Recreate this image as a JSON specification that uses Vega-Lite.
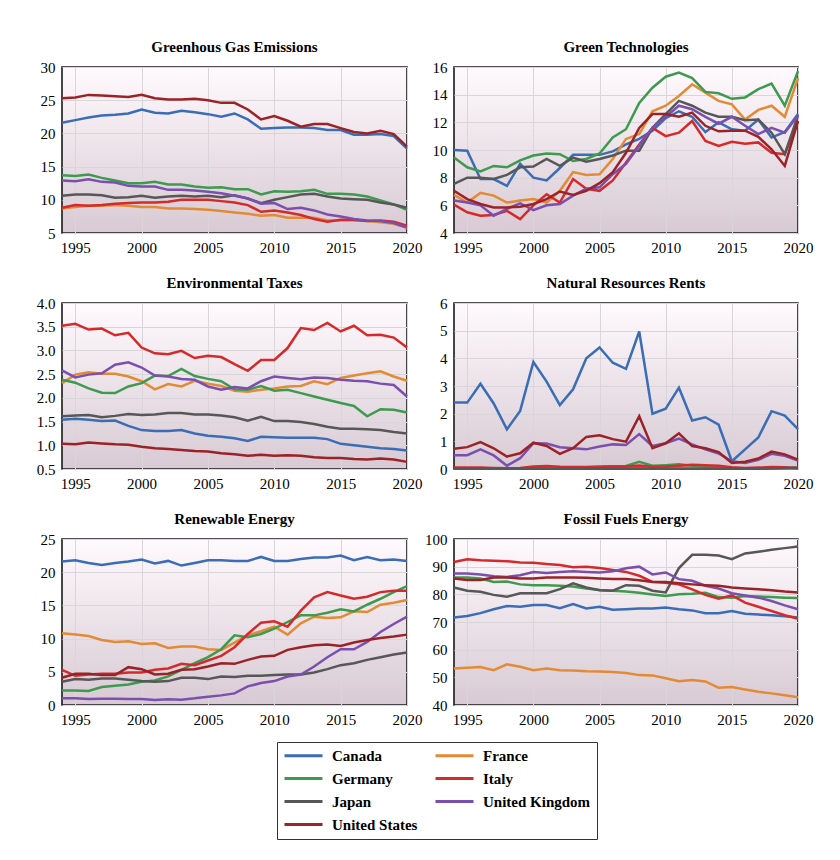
{
"$schema":"https://vega.github.io/schema/vega-lite/v6.json",
"padding":{"left":35,"top":39,"right":5,"bottom":5},
"background":"white",
"datasets":{
"ghg":[
{"year":1994,"Canada":21.6,"France":8.7,"Germany":13.7,"Italy":8.8,"Japan":10.6,"United Kingdom":12.9,"United States":25.3},
{"year":1995,"Canada":22.0,"France":8.9,"Germany":13.6,"Italy":9.2,"Japan":10.8,"United Kingdom":12.8,"United States":25.4},
{"year":1996,"Canada":22.4,"France":9.1,"Germany":13.8,"Italy":9.1,"Japan":10.8,"United Kingdom":13.1,"United States":25.8},
{"year":1997,"Canada":22.7,"France":9.1,"Germany":13.3,"Italy":9.2,"Japan":10.7,"United Kingdom":12.7,"United States":25.7},
{"year":1998,"Canada":22.8,"France":9.2,"Germany":12.9,"Italy":9.4,"Japan":10.3,"United Kingdom":12.6,"United States":25.6},
{"year":1999,"Canada":23.0,"France":9.1,"Germany":12.5,"Italy":9.5,"Japan":10.4,"United Kingdom":12.1,"United States":25.5},
{"year":2000,"Canada":23.6,"France":8.9,"Germany":12.5,"Italy":9.6,"Japan":10.6,"United Kingdom":12.0,"United States":25.8},
{"year":2001,"Canada":23.1,"France":8.9,"Germany":12.7,"Italy":9.6,"Japan":10.3,"United Kingdom":12.0,"United States":25.3},
{"year":2002,"Canada":23.0,"France":8.7,"Germany":12.3,"Italy":9.7,"Japan":10.5,"United Kingdom":11.5,"United States":25.1},
{"year":2003,"Canada":23.4,"France":8.7,"Germany":12.3,"Italy":10.0,"Japan":10.6,"United Kingdom":11.5,"United States":25.1},
{"year":2004,"Canada":23.2,"France":8.6,"Germany":12.0,"Italy":10.0,"Japan":10.5,"United Kingdom":11.4,"United States":25.2},
{"year":2005,"Canada":22.9,"France":8.5,"Germany":11.8,"Italy":10.0,"Japan":10.6,"United Kingdom":11.2,"United States":25.0},
{"year":2006,"Canada":22.5,"France":8.3,"Germany":11.9,"Italy":9.8,"Japan":10.4,"United Kingdom":11.0,"United States":24.6},
{"year":2007,"Canada":23.0,"France":8.1,"Germany":11.6,"Italy":9.6,"Japan":10.7,"United Kingdom":10.6,"United States":24.6},
{"year":2008,"Canada":22.1,"France":7.9,"Germany":11.6,"Italy":9.2,"Japan":10.2,"United Kingdom":10.2,"United States":23.6},
{"year":2009,"Canada":20.7,"France":7.6,"Germany":10.8,"Italy":8.2,"Japan":9.5,"United Kingdom":9.4,"United States":22.1},
{"year":2010,"Canada":20.8,"France":7.7,"Germany":11.3,"Italy":8.4,"Japan":10.0,"United Kingdom":9.5,"United States":22.6},
{"year":2011,"Canada":20.9,"France":7.3,"Germany":11.2,"Italy":8.1,"Japan":10.4,"United Kingdom":8.6,"United States":21.9},
{"year":2012,"Canada":20.9,"France":7.3,"Germany":11.3,"Italy":7.7,"Japan":10.8,"United Kingdom":8.8,"United States":21.0},
{"year":2013,"Canada":20.8,"France":7.3,"Germany":11.5,"Italy":7.1,"Japan":10.9,"United Kingdom":8.4,"United States":21.4},
{"year":2014,"Canada":20.5,"France":6.9,"Germany":10.9,"Italy":6.7,"Japan":10.5,"United Kingdom":7.8,"United States":21.4},
{"year":2015,"Canada":20.5,"France":6.9,"Germany":10.9,"Italy":7.0,"Japan":10.2,"United Kingdom":7.5,"United States":20.8},
{"year":2016,"Canada":19.8,"France":6.9,"Germany":10.8,"Italy":7.0,"Japan":10.1,"United Kingdom":7.1,"United States":20.2},
{"year":2017,"Canada":19.8,"France":6.8,"Germany":10.5,"Italy":6.8,"Japan":10.0,"United Kingdom":6.9,"United States":20.0},
{"year":2018,"Canada":19.9,"France":6.6,"Germany":9.9,"Italy":6.9,"Japan":9.6,"United Kingdom":6.8,"United States":20.4},
{"year":2019,"Canada":19.6,"France":6.4,"Germany":9.3,"Italy":6.7,"Japan":9.3,"United Kingdom":6.5,"United States":19.9},
{"year":2020,"Canada":17.7,"France":5.8,"Germany":8.5,"Italy":6.1,"Japan":8.8,"United Kingdom":5.8,"United States":18.0}
],
"tech":[
{"year":1994,"Canada":10.0,"France":6.75,"Germany":9.45,"Italy":6.05,"Japan":7.55,"United Kingdom":6.35,"United States":7.05},
{"year":1995,"Canada":9.95,"France":6.2,"Germany":8.75,"Italy":5.5,"Japan":8.0,"United Kingdom":6.2,"United States":6.45},
{"year":1996,"Canada":7.9,"France":6.9,"Germany":8.45,"Italy":5.25,"Japan":8.0,"United Kingdom":6.0,"United States":6.1},
{"year":1997,"Canada":7.9,"France":6.7,"Germany":8.85,"Italy":5.3,"Japan":7.9,"United Kingdom":5.25,"United States":5.85},
{"year":1998,"Canada":7.4,"France":6.2,"Germany":8.75,"Italy":5.6,"Japan":8.2,"United Kingdom":5.75,"United States":5.85},
{"year":1999,"Canada":9.0,"France":6.35,"Germany":9.25,"Italy":5.0,"Japan":8.75,"United Kingdom":6.15,"United States":5.9},
{"year":2000,"Canada":8.0,"France":6.45,"Germany":9.6,"Italy":6.0,"Japan":8.8,"United Kingdom":5.65,"United States":6.1},
{"year":2001,"Canada":7.8,"France":6.2,"Germany":9.75,"Italy":6.8,"Japan":9.35,"United Kingdom":6.0,"United States":6.45},
{"year":2002,"Canada":8.7,"France":7.05,"Germany":9.7,"Italy":6.2,"Japan":8.85,"United Kingdom":6.1,"United States":7.0},
{"year":2003,"Canada":9.65,"France":8.4,"Germany":9.2,"Italy":7.9,"Japan":9.45,"United Kingdom":6.7,"United States":6.75},
{"year":2004,"Canada":9.65,"France":8.2,"Germany":9.35,"Italy":7.2,"Japan":9.15,"United Kingdom":7.2,"United States":7.05},
{"year":2005,"Canada":9.65,"France":8.25,"Germany":9.75,"Italy":7.05,"Japan":9.35,"United Kingdom":7.3,"United States":7.6},
{"year":2006,"Canada":9.9,"France":9.35,"Germany":10.9,"Italy":7.8,"Japan":9.6,"United Kingdom":8.25,"United States":8.4},
{"year":2007,"Canada":10.4,"France":10.8,"Germany":11.5,"Italy":9.1,"Japan":9.95,"United Kingdom":9.0,"United States":9.8},
{"year":2008,"Canada":10.8,"France":11.15,"Germany":13.4,"Italy":10.4,"Japan":9.95,"United Kingdom":10.3,"United States":11.6},
{"year":2009,"Canada":11.4,"France":12.8,"Germany":14.5,"Italy":11.6,"Japan":11.6,"United Kingdom":11.6,"United States":12.6},
{"year":2010,"Canada":12.3,"France":13.2,"Germany":15.3,"Italy":11.0,"Japan":12.6,"United Kingdom":12.4,"United States":12.6},
{"year":2011,"Canada":12.8,"France":13.9,"Germany":15.6,"Italy":11.25,"Japan":13.55,"United Kingdom":13.2,"United States":12.4},
{"year":2012,"Canada":12.4,"France":14.75,"Germany":15.2,"Italy":12.1,"Japan":13.2,"United Kingdom":12.95,"United States":12.7},
{"year":2013,"Canada":11.3,"France":14.15,"Germany":14.2,"Italy":10.65,"Japan":12.7,"United Kingdom":12.4,"United States":11.75},
{"year":2014,"Canada":12.0,"France":13.55,"Germany":14.1,"Italy":10.3,"Japan":12.4,"United Kingdom":11.9,"United States":11.35},
{"year":2015,"Canada":11.5,"France":13.3,"Germany":13.7,"Italy":10.6,"Japan":12.4,"United Kingdom":12.4,"United States":11.4},
{"year":2016,"Canada":11.4,"France":12.2,"Germany":13.8,"Italy":10.45,"Japan":12.15,"United Kingdom":11.75,"United States":11.4},
{"year":2017,"Canada":12.2,"France":12.9,"Germany":14.4,"Italy":10.55,"Japan":12.2,"United Kingdom":11.15,"United States":10.95},
{"year":2018,"Canada":10.9,"France":13.2,"Germany":14.8,"Italy":9.8,"Japan":11.25,"United Kingdom":11.6,"United States":10.05},
{"year":2019,"Canada":11.3,"France":12.4,"Germany":13.2,"Italy":9.7,"Japan":9.7,"United Kingdom":11.25,"United States":8.85},
{"year":2020,"Canada":12.6,"France":15.2,"Germany":15.7,"Italy":12.1,"Japan":12.5,"United Kingdom":12.5,"United States":12.1}
],
"tax":[
{"year":1994,"Canada":1.54,"France":2.31,"Germany":2.38,"Italy":3.52,"Japan":1.61,"United Kingdom":2.58,"United States":1.03},
{"year":1995,"Canada":1.56,"France":2.49,"Germany":2.32,"Italy":3.56,"Japan":1.63,"United Kingdom":2.43,"United States":1.02},
{"year":1996,"Canada":1.54,"France":2.54,"Germany":2.20,"Italy":3.44,"Japan":1.64,"United Kingdom":2.49,"United States":1.06},
{"year":1997,"Canada":1.51,"France":2.51,"Germany":2.11,"Italy":3.46,"Japan":1.59,"United Kingdom":2.52,"United States":1.04},
{"year":1998,"Canada":1.52,"France":2.51,"Germany":2.10,"Italy":3.32,"Japan":1.62,"United Kingdom":2.70,"United States":1.02},
{"year":1999,"Canada":1.41,"France":2.45,"Germany":2.24,"Italy":3.37,"Japan":1.66,"United Kingdom":2.75,"United States":1.01},
{"year":2000,"Canada":1.32,"France":2.35,"Germany":2.31,"Italy":3.06,"Japan":1.64,"United Kingdom":2.64,"United States":0.97},
{"year":2001,"Canada":1.30,"France":2.18,"Germany":2.47,"Italy":2.94,"Japan":1.65,"United Kingdom":2.47,"United States":0.94},
{"year":2002,"Canada":1.30,"France":2.29,"Germany":2.46,"Italy":2.92,"Japan":1.68,"United Kingdom":2.45,"United States":0.92},
{"year":2003,"Canada":1.32,"France":2.24,"Germany":2.61,"Italy":2.99,"Japan":1.68,"United Kingdom":2.40,"United States":0.90},
{"year":2004,"Canada":1.25,"France":2.36,"Germany":2.46,"Italy":2.84,"Japan":1.65,"United Kingdom":2.38,"United States":0.88},
{"year":2005,"Canada":1.20,"France":2.30,"Germany":2.40,"Italy":2.89,"Japan":1.65,"United Kingdom":2.24,"United States":0.87},
{"year":2006,"Canada":1.18,"France":2.25,"Germany":2.35,"Italy":2.86,"Japan":1.63,"United Kingdom":2.17,"United States":0.83},
{"year":2007,"Canada":1.15,"France":2.15,"Germany":2.18,"Italy":2.71,"Japan":1.59,"United Kingdom":2.23,"United States":0.81},
{"year":2008,"Canada":1.09,"France":2.13,"Germany":2.17,"Italy":2.57,"Japan":1.52,"United Kingdom":2.20,"United States":0.78},
{"year":2009,"Canada":1.18,"France":2.17,"Germany":2.25,"Italy":2.80,"Japan":1.60,"United Kingdom":2.35,"United States":0.80},
{"year":2010,"Canada":1.17,"France":2.20,"Germany":2.15,"Italy":2.80,"Japan":1.51,"United Kingdom":2.45,"United States":0.78},
{"year":2011,"Canada":1.16,"France":2.24,"Germany":2.17,"Italy":3.05,"Japan":1.51,"United Kingdom":2.42,"United States":0.79},
{"year":2012,"Canada":1.16,"France":2.25,"Germany":2.10,"Italy":3.47,"Japan":1.49,"United Kingdom":2.39,"United States":0.78},
{"year":2013,"Canada":1.16,"France":2.35,"Germany":2.03,"Italy":3.43,"Japan":1.45,"United Kingdom":2.43,"United States":0.75},
{"year":2014,"Canada":1.13,"France":2.29,"Germany":1.96,"Italy":3.58,"Japan":1.39,"United Kingdom":2.42,"United States":0.73},
{"year":2015,"Canada":1.03,"France":2.42,"Germany":1.89,"Italy":3.40,"Japan":1.35,"United Kingdom":2.38,"United States":0.73},
{"year":2016,"Canada":1.00,"France":2.47,"Germany":1.83,"Italy":3.52,"Japan":1.35,"United Kingdom":2.36,"United States":0.71},
{"year":2017,"Canada":0.97,"France":2.52,"Germany":1.61,"Italy":3.32,"Japan":1.34,"United Kingdom":2.35,"United States":0.70},
{"year":2018,"Canada":0.94,"France":2.56,"Germany":1.76,"Italy":3.33,"Japan":1.32,"United Kingdom":2.30,"United States":0.72},
{"year":2019,"Canada":0.92,"France":2.45,"Germany":1.75,"Italy":3.27,"Japan":1.28,"United Kingdom":2.27,"United States":0.70},
{"year":2020,"Canada":0.89,"France":2.36,"Germany":1.69,"Italy":3.06,"Japan":1.25,"United Kingdom":2.03,"United States":0.65}
],
"rent":[
{"year":1994,"Canada":2.4,"France":0.03,"Germany":0.03,"Italy":0.05,"Japan":0.01,"United Kingdom":0.5,"United States":0.73},
{"year":1995,"Canada":2.4,"France":0.03,"Germany":0.03,"Italy":0.05,"Japan":0.01,"United Kingdom":0.5,"United States":0.79},
{"year":1996,"Canada":3.08,"France":0.03,"Germany":0.03,"Italy":0.05,"Japan":0.01,"United Kingdom":0.71,"United States":0.97},
{"year":1997,"Canada":2.37,"France":0.03,"Germany":0.03,"Italy":0.04,"Japan":0.01,"United Kingdom":0.49,"United States":0.75},
{"year":1998,"Canada":1.43,"France":0.02,"Germany":0.02,"Italy":0.03,"Japan":0.01,"United Kingdom":0.12,"United States":0.45},
{"year":1999,"Canada":2.1,"France":0.02,"Germany":0.02,"Italy":0.04,"Japan":0.01,"United Kingdom":0.39,"United States":0.57},
{"year":2000,"Canada":3.87,"France":0.03,"Germany":0.03,"Italy":0.09,"Japan":0.01,"United Kingdom":0.93,"United States":0.95},
{"year":2001,"Canada":3.16,"France":0.03,"Germany":0.03,"Italy":0.11,"Japan":0.01,"United Kingdom":0.92,"United States":0.83},
{"year":2002,"Canada":2.31,"France":0.03,"Germany":0.03,"Italy":0.08,"Japan":0.01,"United Kingdom":0.79,"United States":0.55},
{"year":2003,"Canada":2.88,"France":0.03,"Germany":0.04,"Italy":0.07,"Japan":0.01,"United Kingdom":0.75,"United States":0.75},
{"year":2004,"Canada":4.0,"France":0.03,"Germany":0.06,"Italy":0.07,"Japan":0.01,"United Kingdom":0.71,"United States":1.16},
{"year":2005,"Canada":4.39,"France":0.03,"Germany":0.08,"Italy":0.08,"Japan":0.01,"United Kingdom":0.81,"United States":1.22},
{"year":2006,"Canada":3.84,"France":0.03,"Germany":0.1,"Italy":0.09,"Japan":0.01,"United Kingdom":0.89,"United States":1.08},
{"year":2007,"Canada":3.62,"France":0.03,"Germany":0.11,"Italy":0.09,"Japan":0.01,"United Kingdom":0.87,"United States":0.99},
{"year":2008,"Canada":4.97,"France":0.04,"Germany":0.26,"Italy":0.13,"Japan":0.02,"United Kingdom":1.26,"United States":1.91},
{"year":2009,"Canada":2.0,"France":0.03,"Germany":0.12,"Italy":0.08,"Japan":0.01,"United Kingdom":0.83,"United States":0.75},
{"year":2010,"Canada":2.18,"France":0.03,"Germany":0.14,"Italy":0.09,"Japan":0.01,"United Kingdom":0.93,"United States":0.93},
{"year":2011,"Canada":2.94,"France":0.05,"Germany":0.17,"Italy":0.12,"Japan":0.01,"United Kingdom":1.1,"United States":1.29},
{"year":2012,"Canada":1.75,"France":0.04,"Germany":0.12,"Italy":0.15,"Japan":0.01,"United Kingdom":0.89,"United States":0.83},
{"year":2013,"Canada":1.87,"France":0.03,"Germany":0.08,"Italy":0.14,"Japan":0.01,"United Kingdom":0.71,"United States":0.75},
{"year":2014,"Canada":1.6,"France":0.03,"Germany":0.06,"Italy":0.12,"Japan":0.01,"United Kingdom":0.56,"United States":0.61},
{"year":2015,"Canada":0.28,"France":0.02,"Germany":0.03,"Italy":0.06,"Japan":0.01,"United Kingdom":0.28,"United States":0.22},
{"year":2016,"Canada":0.71,"France":0.02,"Germany":0.02,"Italy":0.04,"Japan":0.01,"United Kingdom":0.22,"United States":0.26},
{"year":2017,"Canada":1.14,"France":0.02,"Germany":0.02,"Italy":0.05,"Japan":0.01,"United Kingdom":0.33,"United States":0.38},
{"year":2018,"Canada":2.09,"France":0.03,"Germany":0.02,"Italy":0.07,"Japan":0.02,"United Kingdom":0.55,"United States":0.63},
{"year":2019,"Canada":1.93,"France":0.04,"Germany":0.02,"Italy":0.06,"Japan":0.04,"United Kingdom":0.48,"United States":0.53},
{"year":2020,"Canada":1.44,"France":0.04,"Germany":0.02,"Italy":0.03,"Japan":0.05,"United Kingdom":0.3,"United States":0.34}
],
"renew":[
{"year":1994,"Canada":21.6,"France":10.8,"Germany":2.2,"Italy":5.3,"Japan":3.5,"United Kingdom":1.0,"United States":4.1},
{"year":1995,"Canada":21.8,"France":10.6,"Germany":2.2,"Italy":4.4,"Japan":3.9,"United Kingdom":1.0,"United States":4.7},
{"year":1996,"Canada":21.4,"France":10.4,"Germany":2.1,"Italy":4.6,"Japan":3.8,"United Kingdom":0.9,"United States":4.7},
{"year":1997,"Canada":21.1,"France":9.8,"Germany":2.7,"Italy":4.7,"Japan":4.0,"United Kingdom":0.95,"United States":4.5},
{"year":1998,"Canada":21.4,"France":9.5,"Germany":2.9,"Italy":4.7,"Japan":4.0,"United Kingdom":0.95,"United States":4.5},
{"year":1999,"Canada":21.6,"France":9.6,"Germany":3.1,"Italy":4.9,"Japan":3.8,"United Kingdom":0.9,"United States":5.7},
{"year":2000,"Canada":21.9,"France":9.2,"Germany":3.5,"Italy":4.9,"Japan":3.6,"United Kingdom":0.9,"United States":5.4},
{"year":2001,"Canada":21.3,"France":9.3,"Germany":3.7,"Italy":5.3,"Japan":3.5,"United Kingdom":0.75,"United States":4.6},
{"year":2002,"Canada":21.7,"France":8.6,"Germany":4.3,"Italy":5.5,"Japan":3.6,"United Kingdom":0.85,"United States":4.7},
{"year":2003,"Canada":21.0,"France":8.8,"Germany":5.3,"Italy":6.2,"Japan":4.1,"United Kingdom":0.8,"United States":5.3},
{"year":2004,"Canada":21.4,"France":8.8,"Germany":6.3,"Italy":6.0,"Japan":4.1,"United Kingdom":1.0,"United States":5.4},
{"year":2005,"Canada":21.8,"France":8.4,"Germany":7.2,"Italy":6.7,"Japan":3.9,"United Kingdom":1.25,"United States":5.8},
{"year":2006,"Canada":21.8,"France":8.3,"Germany":8.4,"Italy":7.4,"Japan":4.3,"United Kingdom":1.45,"United States":6.3},
{"year":2007,"Canada":21.7,"France":9.4,"Germany":10.5,"Italy":8.7,"Japan":4.2,"United Kingdom":1.75,"United States":6.2},
{"year":2008,"Canada":21.7,"France":10.5,"Germany":10.2,"Italy":10.7,"Japan":4.4,"United Kingdom":2.8,"United States":6.8},
{"year":2009,"Canada":22.3,"France":11.1,"Germany":10.7,"Italy":12.4,"Japan":4.4,"United Kingdom":3.3,"United States":7.3},
{"year":2010,"Canada":21.7,"France":11.8,"Germany":11.5,"Italy":12.6,"Japan":4.5,"United Kingdom":3.6,"United States":7.4},
{"year":2011,"Canada":21.7,"France":10.6,"Germany":12.5,"Italy":11.8,"Japan":4.6,"United Kingdom":4.3,"United States":8.3},
{"year":2012,"Canada":22.0,"France":12.3,"Germany":13.5,"Italy":14.2,"Japan":4.6,"United Kingdom":4.6,"United States":8.7},
{"year":2013,"Canada":22.2,"France":13.3,"Germany":13.5,"Italy":16.2,"Japan":4.9,"United Kingdom":5.8,"United States":9.0},
{"year":2014,"Canada":22.2,"France":13.1,"Germany":13.9,"Italy":17.0,"Japan":5.4,"United Kingdom":7.2,"United States":9.1},
{"year":2015,"Canada":22.5,"France":13.2,"Germany":14.4,"Italy":16.5,"Japan":6.0,"United Kingdom":8.4,"United States":8.9},
{"year":2016,"Canada":21.8,"France":14.1,"Germany":14.1,"Italy":16.0,"Japan":6.3,"United Kingdom":8.4,"United States":9.4},
{"year":2017,"Canada":22.3,"France":14.0,"Germany":15.1,"Italy":16.3,"Japan":6.8,"United Kingdom":9.5,"United States":9.8},
{"year":2018,"Canada":21.8,"France":15.1,"Germany":16.0,"Italy":17.0,"Japan":7.2,"United Kingdom":11.0,"United States":10.1},
{"year":2019,"Canada":21.9,"France":15.4,"Germany":17.0,"Italy":17.2,"Japan":7.6,"United Kingdom":12.2,"United States":10.3},
{"year":2020,"Canada":21.7,"France":15.8,"Germany":17.9,"Italy":17.2,"Japan":7.9,"United Kingdom":13.3,"United States":10.6}
],
"fossil":[
{"year":1994,"Canada":71.6,"France":53.2,"Germany":86.1,"Italy":91.7,"Japan":82.5,"United Kingdom":87.5,"United States":85.7},
{"year":1995,"Canada":72.2,"France":53.5,"Germany":86.1,"Italy":92.7,"Japan":81.3,"United Kingdom":87.5,"United States":85.2},
{"year":1996,"Canada":73.2,"France":53.7,"Germany":85.7,"Italy":92.3,"Japan":80.9,"United Kingdom":87.2,"United States":85.2},
{"year":1997,"Canada":74.6,"France":52.6,"Germany":84.5,"Italy":92.1,"Japan":79.8,"United Kingdom":86.5,"United States":86.1},
{"year":1998,"Canada":75.8,"France":54.7,"Germany":84.6,"Italy":92.0,"Japan":79.1,"United Kingdom":86.3,"United States":86.1},
{"year":1999,"Canada":75.5,"France":53.8,"Germany":83.6,"Italy":91.5,"Japan":80.4,"United Kingdom":86.9,"United States":85.7},
{"year":2000,"Canada":76.1,"France":52.6,"Germany":83.3,"Italy":91.4,"Japan":80.4,"United Kingdom":88.1,"United States":85.7},
{"year":2001,"Canada":76.1,"France":53.2,"Germany":83.3,"Italy":91.0,"Japan":80.4,"United Kingdom":87.7,"United States":86.1},
{"year":2002,"Canada":75.0,"France":52.6,"Germany":83.1,"Italy":90.6,"Japan":81.9,"United Kingdom":88.1,"United States":86.1},
{"year":2003,"Canada":76.5,"France":52.5,"Germany":82.8,"Italy":89.8,"Japan":84.0,"United Kingdom":88.3,"United States":86.1},
{"year":2004,"Canada":74.9,"France":52.2,"Germany":82.1,"Italy":90.0,"Japan":82.5,"United Kingdom":88.1,"United States":86.0},
{"year":2005,"Canada":75.5,"France":52.1,"Germany":81.6,"Italy":89.5,"Japan":81.5,"United Kingdom":87.9,"United States":85.7},
{"year":2006,"Canada":74.4,"France":51.9,"Germany":81.3,"Italy":88.8,"Japan":81.3,"United Kingdom":88.3,"United States":85.5},
{"year":2007,"Canada":74.6,"France":51.6,"Germany":81.0,"Italy":88.1,"Japan":83.3,"United Kingdom":89.4,"United States":85.5},
{"year":2008,"Canada":74.9,"France":50.8,"Germany":80.6,"Italy":86.7,"Japan":83.1,"United Kingdom":90.0,"United States":85.1},
{"year":2009,"Canada":74.9,"France":50.7,"Germany":79.9,"Italy":84.5,"Japan":81.3,"United Kingdom":87.2,"United States":84.5},
{"year":2010,"Canada":75.2,"France":49.7,"Germany":79.4,"Italy":84.2,"Japan":80.7,"United Kingdom":87.9,"United States":84.5},
{"year":2011,"Canada":74.6,"France":48.6,"Germany":80.0,"Italy":83.6,"Japan":89.5,"United Kingdom":85.5,"United States":84.0},
{"year":2012,"Canada":74.2,"France":49.0,"Germany":80.2,"Italy":81.8,"Japan":94.3,"United Kingdom":84.9,"United States":83.6},
{"year":2013,"Canada":73.2,"France":48.5,"Germany":80.6,"Italy":79.8,"Japan":94.3,"United Kingdom":83.1,"United States":83.3},
{"year":2014,"Canada":73.2,"France":46.2,"Germany":79.0,"Italy":78.4,"Japan":94.0,"United Kingdom":82.1,"United States":83.1},
{"year":2015,"Canada":74.0,"France":46.5,"Germany":78.8,"Italy":79.6,"Japan":92.7,"United Kingdom":80.4,"United States":82.5},
{"year":2016,"Canada":73.0,"France":45.6,"Germany":79.4,"Italy":77.0,"Japan":94.8,"United Kingdom":79.6,"United States":82.1},
{"year":2017,"Canada":72.7,"France":44.8,"Germany":79.2,"Italy":75.5,"Japan":95.4,"United Kingdom":78.8,"United States":81.8},
{"year":2018,"Canada":72.4,"France":44.2,"Germany":79.0,"Italy":74.0,"Japan":96.1,"United Kingdom":77.6,"United States":81.5},
{"year":2019,"Canada":72.1,"France":43.5,"Germany":78.8,"Italy":72.5,"Japan":96.7,"United Kingdom":76.0,"United States":81.0},
{"year":2020,"Canada":71.6,"France":42.8,"Germany":78.7,"Italy":71.2,"Japan":97.3,"United Kingdom":74.6,"United States":80.7}
]
},
"concat":[
{"title":"Greenhous Gas Emissions","width":345,"height":166,"data":{"name":"ghg"},
"transform":[{"fold":["Canada","France","Germany","Italy","Japan","United Kingdom","United States"],"as":["country","value"]}],
"mark":{"type":"line","strokeWidth":2.5},
"encoding":{"x":{"field":"year","type":"quantitative","scale":{"domain":[1994,2020]},"axis":{"title":null,"values":[1995,2000,2005,2010,2015,2020],"format":"d"}},
"y":{"field":"value","type":"quantitative","scale":{"domain":[5,30],"nice":false,"zero":false},"axis":{"title":null,"values":[5,10,15,20,25,30]}},
"color":{"field":"country","type":"nominal","scale":{"domain":["Canada","France","Germany","Italy","Japan","United Kingdom","United States"],"range":["#3a6db5","#e38a35","#3d9a4f","#d52a2b","#575757","#7a4fae","#9b2226"]},
"legend":{"orient":"none","legendX":215,"legendY":675,"columns":2,"direction":"horizontal","title":null}}}},
{"title":"Green Technologies","width":344,"height":166,"data":{"name":"tech"},
"transform":[{"fold":["Canada","France","Germany","Italy","Japan","United Kingdom","United States"],"as":["country","value"]}],
"mark":{"type":"line","strokeWidth":2.5},
"encoding":{"x":{"field":"year","type":"quantitative","scale":{"domain":[1994,2020]},"axis":{"title":null,"values":[1995,2000,2005,2010,2015,2020],"format":"d"}},
"y":{"field":"value","type":"quantitative","scale":{"domain":[4,16],"nice":false,"zero":false},"axis":{"title":null,"values":[4,6,8,10,12,14,16]}},
"color":{"field":"country","type":"nominal"}}},
{"title":"Environmental Taxes","width":345,"height":166,"data":{"name":"tax"},
"transform":[{"fold":["Canada","France","Germany","Italy","Japan","United Kingdom","United States"],"as":["country","value"]}],
"mark":{"type":"line","strokeWidth":2.5},
"encoding":{"x":{"field":"year","type":"quantitative","scale":{"domain":[1994,2020]},"axis":{"title":null,"values":[1995,2000,2005,2010,2015,2020],"format":"d"}},
"y":{"field":"value","type":"quantitative","scale":{"domain":[0.5,4],"nice":false,"zero":false},"axis":{"title":null,"values":[0.5,1,1.5,2,2.5,3,3.5,4],"format":".1f"}},
"color":{"field":"country","type":"nominal"}}},
{"title":"Natural Resources Rents","width":344,"height":166,"data":{"name":"rent"},
"transform":[{"fold":["Canada","France","Germany","Italy","Japan","United Kingdom","United States"],"as":["country","value"]}],
"mark":{"type":"line","strokeWidth":2.5},
"encoding":{"x":{"field":"year","type":"quantitative","scale":{"domain":[1994,2020]},"axis":{"title":null,"values":[1995,2000,2005,2010,2015,2020],"format":"d"}},
"y":{"field":"value","type":"quantitative","scale":{"domain":[0,6],"nice":false},"axis":{"title":null,"values":[0,1,2,3,4,5,6]}},
"color":{"field":"country","type":"nominal"}}},
{"title":"Renewable Energy","width":345,"height":166,"data":{"name":"renew"},
"transform":[{"fold":["Canada","France","Germany","Italy","Japan","United Kingdom","United States"],"as":["country","value"]}],
"mark":{"type":"line","strokeWidth":2.5},
"encoding":{"x":{"field":"year","type":"quantitative","scale":{"domain":[1994,2020]},"axis":{"title":null,"values":[1995,2000,2005,2010,2015,2020],"format":"d"}},
"y":{"field":"value","type":"quantitative","scale":{"domain":[0,25],"nice":false},"axis":{"title":null,"values":[0,5,10,15,20,25]}},
"color":{"field":"country","type":"nominal"}}},
{"title":"Fossil Fuels Energy","width":344,"height":166,"data":{"name":"fossil"},
"transform":[{"fold":["Canada","France","Germany","Italy","Japan","United Kingdom","United States"],"as":["country","value"]}],
"mark":{"type":"line","strokeWidth":2.5},
"encoding":{"x":{"field":"year","type":"quantitative","scale":{"domain":[1994,2020]},"axis":{"title":null,"values":[1995,2000,2005,2010,2015,2020],"format":"d"}},
"y":{"field":"value","type":"quantitative","scale":{"domain":[40,100],"nice":false,"zero":false},"axis":{"title":null,"values":[40,50,60,70,80,90,100]}},
"color":{"field":"country","type":"nominal"}}}
],
"columns":2,
"spacing":{"row":70,"column":47},
"bounds":"flush",
"config":{
"font":"Liberation Serif",
"view":{"stroke":"#1a1a1a","strokeWidth":1.6,"fill":{"gradient":"linear","x1":0,"y1":0,"x2":0,"y2":1,"stops":[{"offset":0,"color":"#fffafd"},{"offset":1,"color":"#d8cad4"}]}},
"axis":{"labelFont":"Liberation Serif","labelFontSize":15,"labelColor":"#000","ticks":false,"domain":false,"grid":true,"gridColor":"#d9d5d9","gridWidth":1,"labelFlush":false,"labelOverlap":false},
"axisX":{"labelPadding":7},
"axisY":{"labelPadding":7},
"title":{"font":"Liberation Serif","fontSize":15,"fontWeight":"bold","color":"#000","frame":"group","anchor":"middle","offset":5},
"legend":{"symbolType":"stroke","symbolSize":1444,"symbolStrokeWidth":3,"labelFont":"Liberation Serif","labelFontSize":15,"labelFontWeight":"bold","labelColor":"#000","strokeColor":"#333","fillColor":"white","padding":6,"rowPadding":7,"columnPadding":16,"labelOffset":8,"clipHeight":15}
}
}
